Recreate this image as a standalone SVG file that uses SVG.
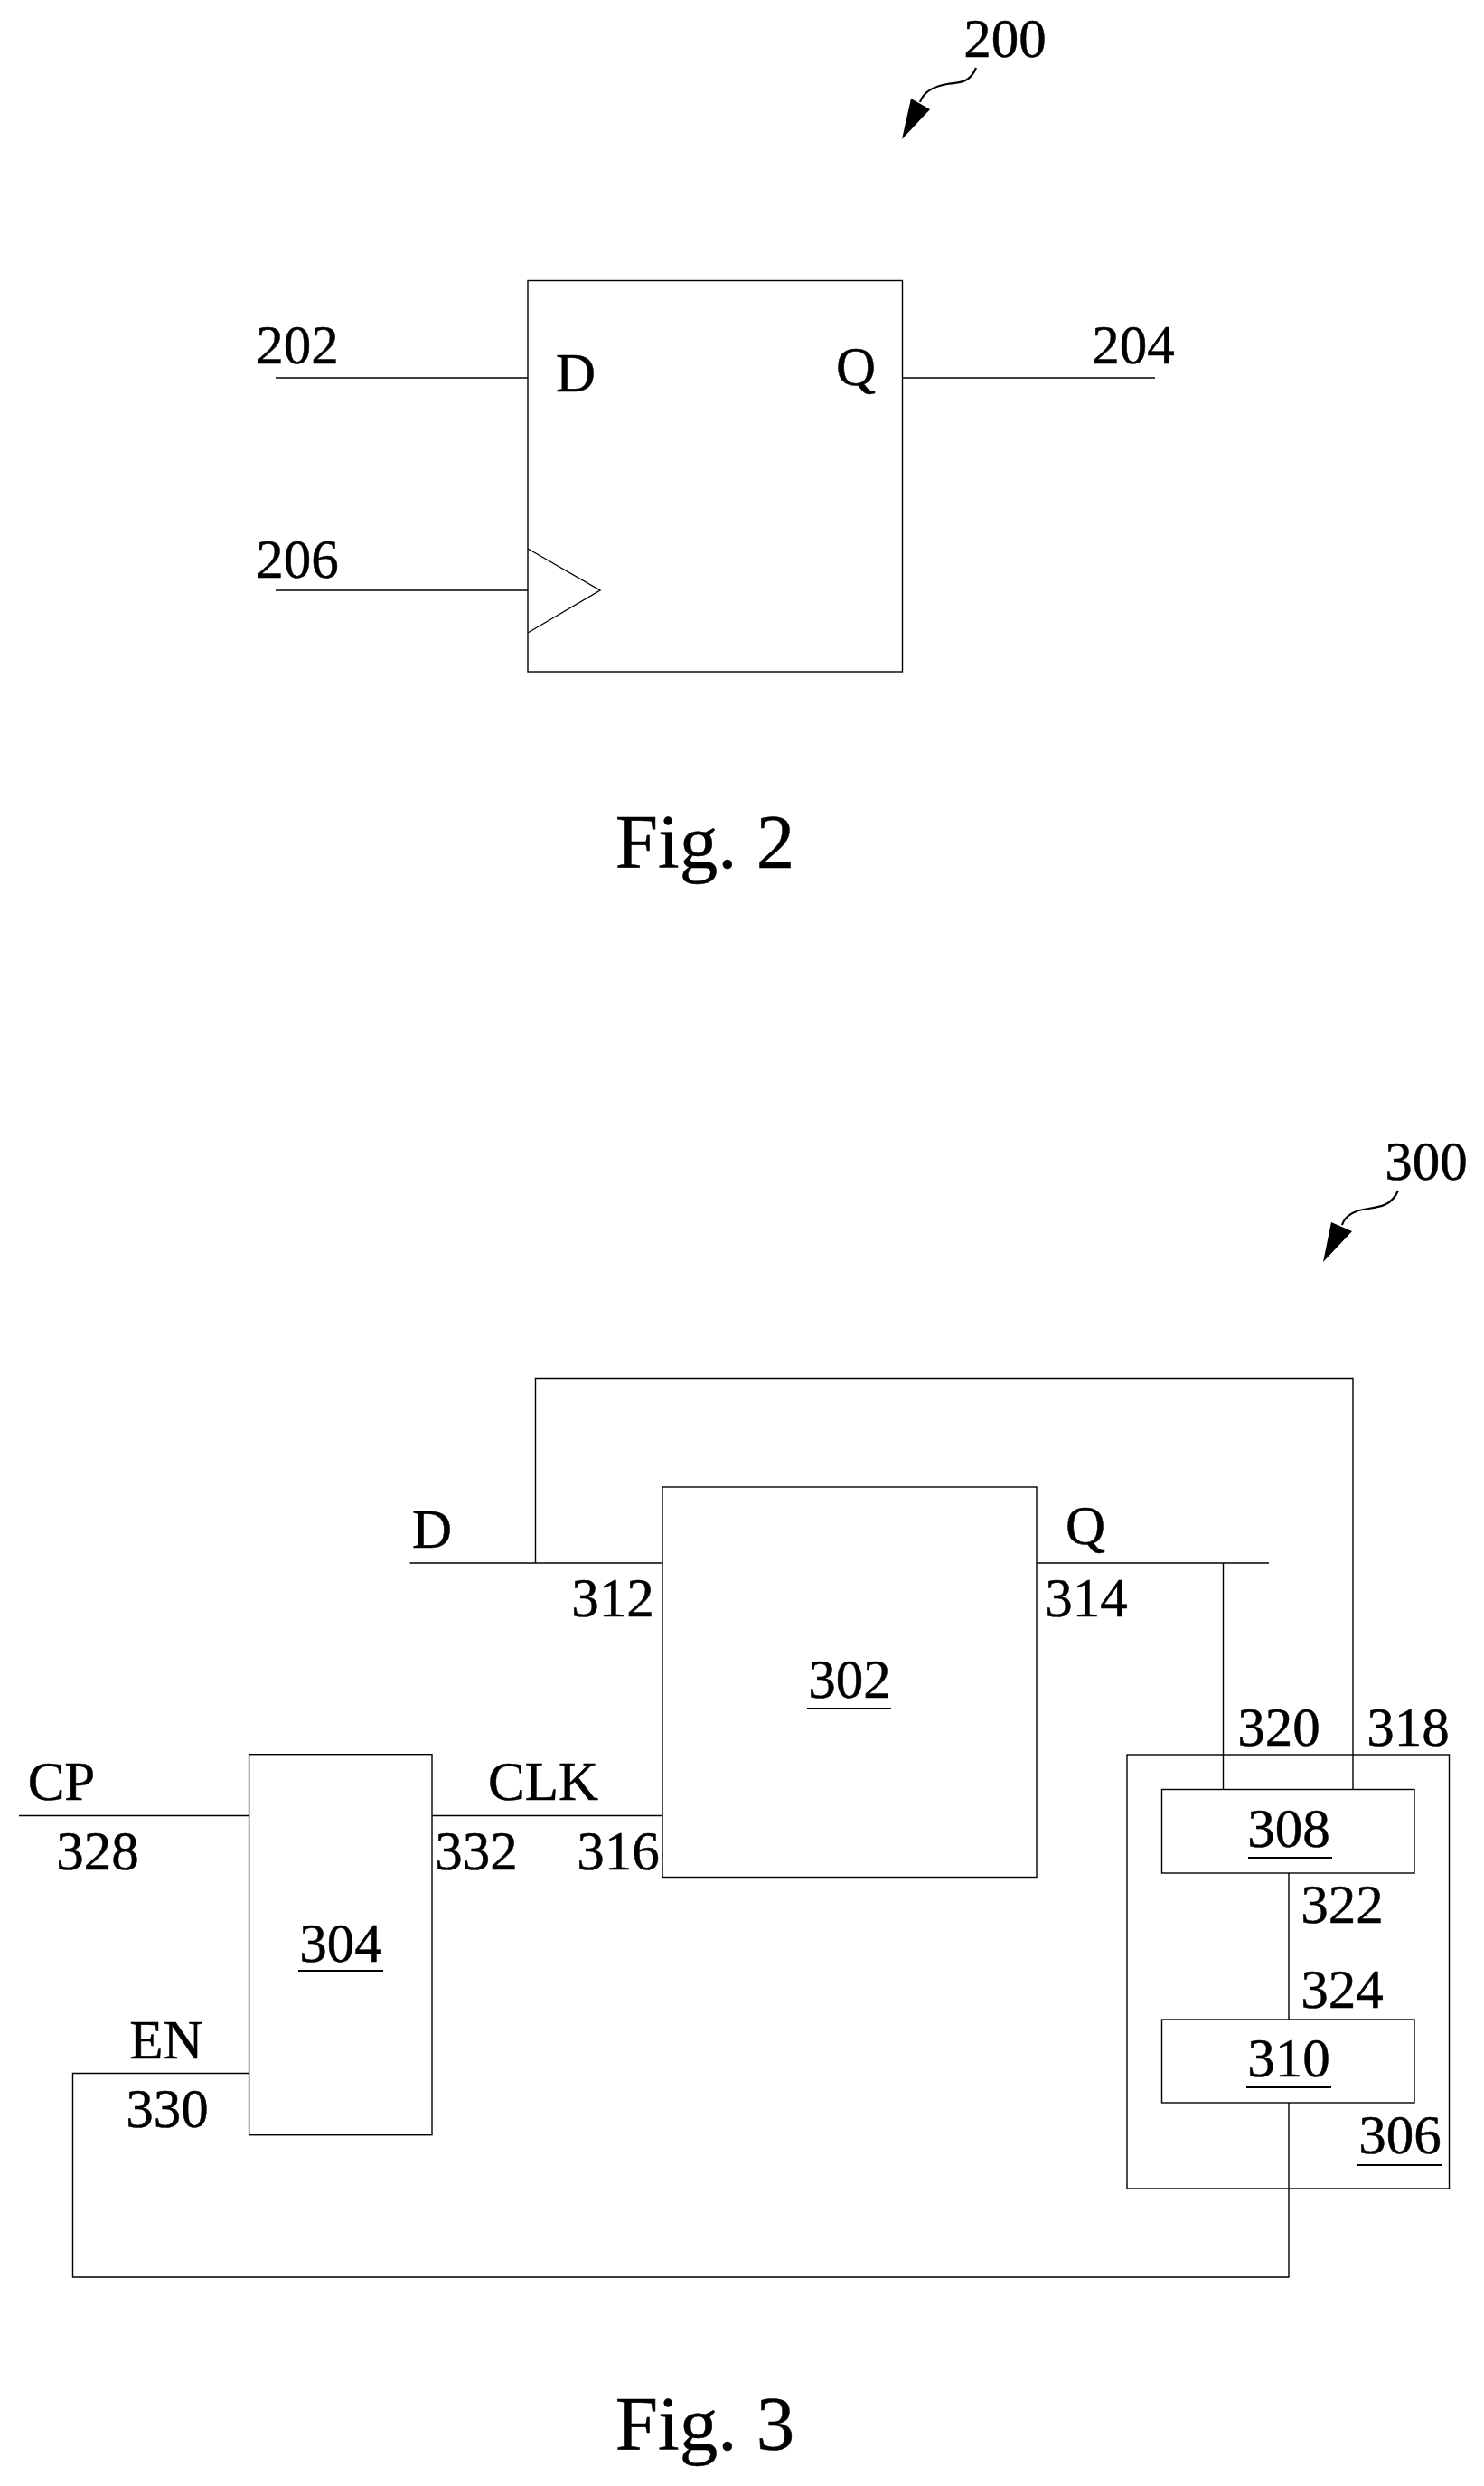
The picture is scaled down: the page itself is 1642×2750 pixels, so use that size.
<svg xmlns="http://www.w3.org/2000/svg" width="1642" height="2750" viewBox="0 0 1642 2750">
<style>
.t{font-family:"Liberation Serif","Times New Roman",serif;font-size:61px;fill:#000;stroke:#000;stroke-width:.5;text-anchor:middle}
.fig{font-size:85px}
.b{fill:#fff;stroke:#000;stroke-width:1.4}
.w{fill:none;stroke:#000;stroke-width:1.4}
.u{stroke:#000;stroke-width:2;fill:none}
.s{fill:none;stroke:#000;stroke-width:2.2}
</style>
<rect width="1642" height="2750" fill="#fff"/>
<g id="fig2-label"><text class="t" x="1112" y="63">200</text>
<path class="s" d="M1080 75C1073 92 1062 91 1048 93C1030 96 1021 104 1018 113"/>
<polygon points="1008,109 1029,121 998,154"/></g>
<g id="node-ff200"><rect class="b" x="584" y="310.5" width="414.5" height="432.5"/>
<polyline class="w" points="584,607 664,653 584,700"/>
<text class="t" x="637" y="433">D</text><text class="t" x="947" y="426">Q</text></g>
<g id="connectors-fig2">
<line class="w" x1="305" y1="418" x2="584" y2="418"/>
<line class="w" x1="998.5" y1="418" x2="1278" y2="418"/>
<line class="w" x1="305" y1="653" x2="584" y2="653"/>
</g>
<g id="labels-fig2"><text class="t" x="329" y="402">202</text><text class="t" x="1254" y="402">204</text><text class="t" x="329" y="639">206</text></g>
<text class="t fig" x="780" y="960">Fig. 2</text>

<g id="fig3-label"><text class="t" x="1578" y="1305">300</text>
<path class="s" d="M1547 1317C1540 1333 1528 1335 1514 1337C1497 1339 1488 1346 1485 1355"/>
<polygon points="1473,1352 1496,1362 1464,1396"/></g>
<g id="node-306"><rect class="b" x="1247" y="1941" width="356.5" height="480"/>
<text class="t" x="1549" y="2382">306</text><line class="u" x1="1501" y1="2395" x2="1595" y2="2395"/></g>
<g id="node-302"><rect class="b" x="733" y="1645" width="414" height="431.5"/>
<text class="t" x="940" y="1878">302</text><line class="u" x1="893" y1="1890" x2="986" y2="1890"/></g>
<g id="node-304"><rect class="b" x="275.6" y="1940.7" width="202.4" height="421"/>
<text class="t" x="377" y="2170">304</text><line class="u" x1="330" y1="2180" x2="424" y2="2180"/></g>
<g id="node-308"><rect class="b" x="1285.5" y="1979.5" width="279.5" height="92.5"/>
<text class="t" x="1426" y="2043">308</text><line class="u" x1="1381" y1="2055" x2="1474" y2="2055"/></g>
<g id="node-310"><rect class="b" x="1285.5" y="2234" width="279.5" height="92"/>
<text class="t" x="1426" y="2297">310</text><line class="u" x1="1379" y1="2309" x2="1473" y2="2309"/></g>
<g id="connectors-fig3">
<line class="w" x1="453.5" y1="1729" x2="733" y2="1729"/>
<polyline class="w" points="592.5,1729 592.5,1524.5 1497,1524.5 1497,1979.5"/>
<line class="w" x1="1147" y1="1729" x2="1404" y2="1729"/>
<line class="w" x1="1353.5" y1="1729" x2="1353.5" y2="1979.5"/>
<line class="w" x1="1426" y1="2072" x2="1426" y2="2234"/>
<polyline class="w" points="1426,2326 1426,2519 80.5,2519 80.5,2293.5 275.6,2293.5"/>
<line class="w" x1="21" y1="2008.5" x2="275.6" y2="2008.5"/>
<line class="w" x1="478" y1="2008.5" x2="733" y2="2008.5"/>
</g>
<g id="labels-fig3">
<text class="t" x="478" y="1712">D</text>
<text class="t" x="1201" y="1708">Q</text>
<text class="t" x="678" y="1788">312</text>
<text class="t" x="1202" y="1788">314</text>
<text class="t" x="68" y="1991">CP</text>
<text class="t" x="108" y="2068">328</text>
<text class="t" x="601" y="1991">CLK</text>
<text class="t" x="527" y="2068">332</text>
<text class="t" x="684" y="2068">316</text>
<text class="t" x="184" y="2277">EN</text>
<text class="t" x="185" y="2353">330</text>
<text class="t" x="1415" y="1931">320</text>
<text class="t" x="1558" y="1931">318</text>
<text class="t" x="1485" y="2127">322</text>
<text class="t" x="1485" y="2221">324</text>
</g>
<text class="t fig" x="780" y="2710">Fig. 3</text>
</svg>
